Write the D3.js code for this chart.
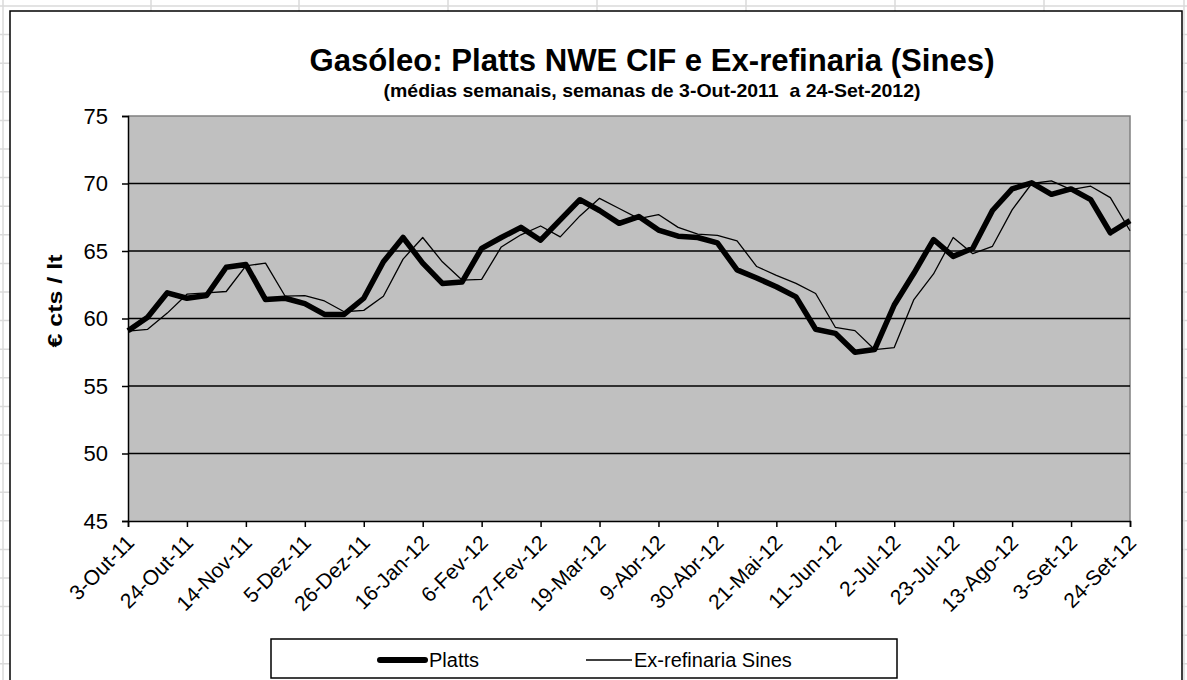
<!DOCTYPE html>
<html><head><meta charset="utf-8">
<script src="https://cdn.jsdelivr.net/npm/d3@7"></script>
<style>
html,body{margin:0;padding:0;background:#fff;}
svg{display:block;font-family:"Liberation Sans",Arial,sans-serif;}
</style></head>
<body>
<svg id="c" width="1187" height="680"></svg>
<script>
const tickLabels = ["3-Out-11","24-Out-11","14-Nov-11","5-Dez-11","26-Dez-11","16-Jan-12","6-Fev-12","27-Fev-12","19-Mar-12","9-Abr-12","30-Abr-12","21-Mai-12","11-Jun-12","2-Jul-12","23-Jul-12","13-Ago-12","3-Set-12","24-Set-12"];
const platts = [59.1,60.1,61.9,61.5,61.7,63.8,64.0,61.4,61.5,61.1,60.3,60.3,61.5,64.2,66.0,64.1,62.6,62.7,65.2,66.0,66.75,65.8,67.3,68.8,68.0,67.05,67.55,66.55,66.1,66.0,65.6,63.6,63.0,62.35,61.6,59.2,58.9,57.5,57.7,61.0,63.35,65.85,64.6,65.2,68.0,69.6,70.05,69.2,69.6,68.8,66.35,67.25];
const exref = [59.07,59.2,60.4,61.8,61.9,62.0,63.9,64.1,61.65,61.7,61.3,60.5,60.6,61.65,64.4,66.0,64.2,62.85,62.9,65.3,66.2,66.85,66.05,67.6,68.9,68.15,67.4,67.7,66.75,66.25,66.15,65.75,63.85,63.2,62.6,61.85,59.35,59.1,57.7,57.85,61.4,63.3,66.0,64.8,65.35,68.05,70.0,70.2,69.55,69.8,68.95,66.5];
const yTicks = [45,50,55,60,65,70,75];
const tickEvery = 3;
const seriesNames = ["Platts","Ex-refinaria Sines"];

const svg = d3.select("#c");
const W = 1187, H = 680;

// spreadsheet background grid
const bg = svg.append("g");
for (let y = 6; y < H; y += 28.6) bg.append("line").attr("x1",0).attr("x2",W).attr("y1",y).attr("y2",y).attr("stroke","#dadada").attr("stroke-width",1.5);
[3,151,299,448,597,746,895,1044,1184].forEach(x => bg.append("line").attr("x1",x).attr("x2",x).attr("y1",0).attr("y2",H).attr("stroke","#dadada").attr("stroke-width",1.5));

// chart box
svg.append("rect").attr("x",10).attr("y",11).attr("width",1172).attr("height",700).attr("fill","#fff").attr("stroke","#000").attr("stroke-width",1.5);

const L = 128, R = 1130, T = 116, B = 521;
const x = d3.scaleLinear().domain([0, platts.length - 1]).range([L, R]);
const y = d3.scaleLinear().domain([45, 75]).range([B, T]);

// plot area
svg.append("rect").attr("x",L).attr("y",T).attr("width",R-L).attr("height",B-T).attr("fill","#c0c0c0");
svg.append("path").attr("d",`M${L},${T}H${R}V${B}`).attr("fill","none").attr("stroke","#808080").attr("stroke-width",1.5);

// gridlines
svg.append("g").selectAll("line").data(yTicks.filter(v => v > 45 && v < 75)).join("line")
  .attr("x1",L).attr("x2",R).attr("y1",d=>y(d)).attr("y2",d=>y(d)).attr("stroke","#000").attr("stroke-width",1.5);

// y axis
const yAxis = svg.append("g").attr("transform",`translate(${L},0)`)
  .call(d3.axisLeft(y).tickValues(yTicks).tickSize(6).tickPadding(14));
yAxis.select(".domain").attr("stroke","#000").attr("stroke-width",1.5);
yAxis.selectAll(".tick line").attr("stroke","#000").attr("stroke-width",1.5);
yAxis.selectAll(".tick text").attr("font-size",22).attr("fill","#000").attr("font-family","Liberation Sans, Arial, sans-serif");

// x axis
const tickIdx = d3.range(0, platts.length, tickEvery);
const xAxis = svg.append("g").attr("transform",`translate(0,${B})`)
  .call(d3.axisBottom(x).tickValues(tickIdx).tickSize(6).tickFormat((d,i)=>tickLabels[i]));
xAxis.select(".domain").attr("stroke","#000").attr("stroke-width",1.5);
xAxis.selectAll(".tick line").attr("stroke","#000").attr("stroke-width",1.5);
xAxis.selectAll(".tick text").attr("font-size",21).attr("fill","#000").attr("font-family","Liberation Sans, Arial, sans-serif")
  .attr("text-anchor","end").attr("dy",0).attr("y",0)
  .attr("transform","translate(7,23) rotate(-45)");

// lines
const line = d3.line().x((d,i)=>x(i)).y(d=>y(d)).curve(d3.curveLinear);
svg.append("path").datum(exref).attr("d",line).attr("fill","none").attr("stroke","#000").attr("stroke-width",1.3).attr("stroke-linejoin","round");
svg.append("path").datum(platts).attr("d",line).attr("fill","none").attr("stroke","#000").attr("stroke-width",5.5).attr("stroke-linejoin","round");

// titles
svg.append("text").attr("x",652).attr("y",71).attr("text-anchor","middle").attr("font-size",31).attr("font-weight","bold")
  .attr("textLength",685).attr("lengthAdjust","spacingAndGlyphs").text("Gasóleo: Platts NWE CIF e Ex-refinaria (Sines)");
svg.append("text").attr("x",652).attr("y",97).attr("text-anchor","middle").attr("font-size",19).attr("font-weight","bold")
  .attr("xml:space","preserve").style("white-space","pre")
  .attr("textLength",537).attr("lengthAdjust","spacingAndGlyphs").text("(médias semanais, semanas de 3-Out-2011  a 24-Set-2012)");

// y axis title
svg.append("text").attr("transform","translate(62,301) rotate(-90)").attr("text-anchor","middle").attr("font-size",21).attr("font-weight","bold")
  .attr("textLength",93).attr("lengthAdjust","spacingAndGlyphs").text("€ cts / lt");

// legend
const lg = svg.append("g");
lg.append("rect").attr("x",271).attr("y",639).attr("width",626).attr("height",39).attr("fill","#fff").attr("stroke","#000").attr("stroke-width",1.5);
lg.append("line").attr("x1",380).attr("x2",425).attr("y1",660).attr("y2",660).attr("stroke","#000").attr("stroke-width",6).attr("stroke-linecap","round");
lg.append("text").attr("x",429).attr("y",667).attr("font-size",20).text(seriesNames[0]);
lg.append("line").attr("x1",586).attr("x2",632).attr("y1",660).attr("y2",660).attr("stroke","#000").attr("stroke-width",1.3);
lg.append("text").attr("x",634).attr("y",667).attr("font-size",20).text(seriesNames[1]);
</script>
</body></html>
